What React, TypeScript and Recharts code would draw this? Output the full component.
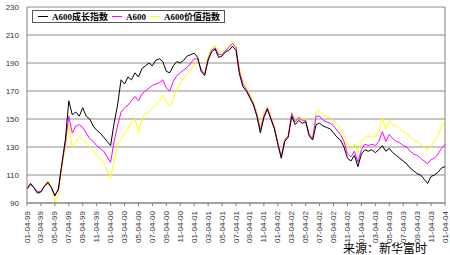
import { LineChart, Line, XAxis, YAxis, CartesianGrid, ReferenceLine } from 'recharts';

// x tick labels, one every two months (Jan 1999 .. Jan 2004)
const tickLabels = [
    '01-04-99', '03-04-99', '05-04-99', '07-04-99', '09-04-99', '11-04-99',
    '01-04-00', '03-04-00', '05-04-00', '07-04-00', '09-04-00', '11-04-00',
    '01-04-01', '03-04-01', '05-04-01', '07-04-01', '09-04-01', '11-04-01',
    '01-04-02', '03-04-02', '05-04-02', '07-04-02', '09-04-02', '11-04-02',
    '01-04-03', '03-04-03', '05-04-03', '07-04-03', '09-04-03', '11-04-03',
    '01-04-04',
];

const yTicks = [90, 110, 130, 150, 170, 190, 210, 230];

// half-month samples
const growth = [
    100, 104, 101, 97, 98, 102, 105, 101, 95, 100, 118,
    135, 163, 153, 155, 152, 158, 152, 150, 145, 142,
    140, 137, 134, 131, 147, 160, 178, 175, 180, 178,
    183, 180, 186, 188, 190, 188, 192, 193, 191, 184,
    183, 188, 191, 190, 192, 195, 196, 197, 194, 184,
    181, 192, 198, 200, 194, 195, 198, 199, 202, 199,
    182, 173, 170, 165, 160, 152, 140, 151, 157, 150,
    143, 132, 122, 134, 137, 152, 146, 149, 147, 148,
    138, 135, 146, 147, 145, 144, 143, 140, 137, 135,
    130, 122, 120, 124, 116, 125, 128, 127, 128, 126,
    128, 131, 127, 129, 126, 124, 122, 120, 118, 115,
    113, 111, 110, 107, 104, 109, 110, 112, 115, 116,
];

const a600 = [
    100, 103, 101, 98, 98, 102, 104, 101, 96, 99, 117,
    133, 152, 140, 145, 146, 144, 140, 136, 134, 131,
    129, 127, 123, 119, 134, 145, 155, 158, 160, 163,
    166, 163, 168, 170, 172, 174, 175, 176, 178, 172,
    170, 177, 181, 183, 185, 187, 190, 193, 193, 185,
    182, 193, 199, 201, 196, 196, 199, 201, 204, 201,
    184, 175, 171, 166, 161, 153, 142, 152, 158, 151,
    144, 133, 123, 135, 138, 154, 148, 151, 149, 149,
    139, 136, 152, 152, 149, 148, 147, 145, 142, 139,
    134, 125, 123, 127, 119, 128, 132, 131, 132, 131,
    134, 141, 134, 139, 136, 134, 133, 131, 130, 127,
    125, 124, 122, 120, 118, 121, 122, 125, 129, 132,
];

const valueIdx = [
    100, 104, 101, 98, 98, 102, 106, 102, 91, 96, 115,
    130, 146, 130, 134, 137, 135, 133, 130, 127, 124,
    122, 119, 113, 108, 120, 132, 136, 140, 143, 148,
    150, 141, 150, 154, 155, 158, 160, 163, 167, 162,
    159, 165, 171, 176, 179, 182, 185, 189, 192, 186,
    183, 195, 201, 203, 197, 198, 200, 202, 206, 203,
    186, 177, 173, 168, 163, 155, 144, 154, 159, 152,
    145, 134, 124, 136, 139, 155, 149, 152, 150, 150,
    140, 137, 155, 156, 153, 152, 151, 149, 146, 143,
    139, 130, 128, 132, 126, 134, 137, 137, 138, 137,
    141, 151, 143, 149, 146, 145, 143, 141, 140, 137,
    135, 134, 132, 130, 128, 131, 134, 138, 145, 149,
];

const data = growth.map((g, i) => ({
    t: i * 0.5,
    growth: g,
    a600: a600[i],
    value: valueIdx[i],
}));

const xTicks = tickLabels.map((_, k) => k * 2);

const RotatedTick = (props: any) => {
    const { x, y, payload } = props;
    const label = tickLabels[Math.round(payload.value / 2)];
    return (
        <text
            x={x}
            y={y + 3}
            transform={`rotate(-90, ${x}, ${y + 3})`}
            textAnchor="end"
            dominantBaseline="central"
            fontSize={8}
            fontFamily="'Liberation Sans', Arial, sans-serif"
            fill="#333"
        >
            {label}
        </text>
    );
};

const legendItems = [
    { name: 'A600成长指数', color: '#000000' },
    { name: 'A600', color: '#ff00ff' },
    { name: 'A600价值指数', color: '#ffff00' },
];

export default function App() {
    return (
        <div style={{ position: 'relative', width: 450, height: 255, background: '#fff' }}>
            <style>{'body{margin:0}'}</style>
            <LineChart width={450} height={255} data={data} margin={{ top: 7, right: 5, bottom: 12, left: 0 }}>
                <CartesianGrid vertical={false} stroke="#8c8c8c" />
                <XAxis
                    dataKey="t"
                    type="number"
                    domain={[0, 60]}
                    ticks={xTicks}
                    interval={0}
                    height={40}
                    tick={<RotatedTick />}
                    tickSize={3}
                    stroke="#808080"
                />
                <YAxis
                    domain={[90, 230]}
                    ticks={yTicks}
                    width={27}
                    tickLine={false}
                    tickSize={0}
                    tickMargin={8}
                    stroke="#808080"
                    tick={{ fill: '#333', fontSize: 8, fontFamily: "'Liberation Sans', Arial, sans-serif" }}
                />
                <ReferenceLine x={60} stroke="#808080" />
                <Line type="linear" dataKey="value" stroke="#ffff00" strokeWidth={1} dot={false} isAnimationActive={false} />
                <Line type="linear" dataKey="a600" stroke="#ff00ff" strokeWidth={1} dot={false} isAnimationActive={false} />
                <Line type="linear" dataKey="growth" stroke="#000000" strokeWidth={1} dot={false} isAnimationActive={false} />
            </LineChart>
            <div
                style={{
                    position: 'absolute', left: 32, top: 10, width: 193, height: 13,
                    border: '1px solid #555', background: '#fff', boxSizing: 'border-box',
                    display: 'flex', alignItems: 'center', paddingLeft: 5,
                    fontFamily: "'Liberation Serif', 'Noto Sans CJK SC', serif", fontSize: 9, fontWeight: 'bold',
                    whiteSpace: 'nowrap',
                }}
            >
                {legendItems.map((it) => (
                    <span key={it.name} style={{ display: 'flex', alignItems: 'center', marginRight: 4 }}>
                        <span style={{ display: 'inline-block', width: 10, height: 1, background: it.color, marginRight: 4 }} />
                        {it.name}
                    </span>
                ))}
            </div>
            <div
                style={{
                    position: 'absolute', left: 343, top: 239,
                    fontFamily: "'Noto Sans CJK SC', sans-serif", fontSize: 12, color: '#000',
                }}
            >
                来源：新华富时
            </div>
        </div>
    );
}
